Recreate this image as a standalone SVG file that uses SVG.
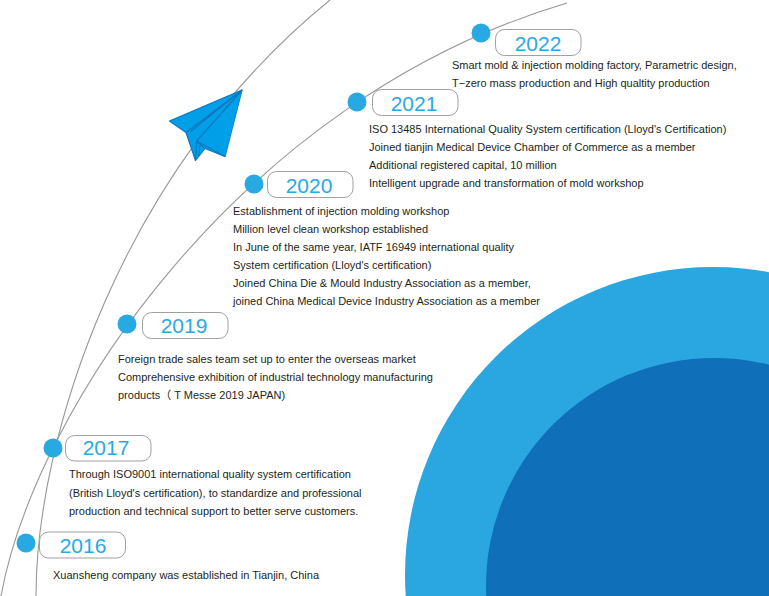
<svg xmlns="http://www.w3.org/2000/svg" width="769" height="596" viewBox="0 0 769 596">
<style>
.curve{fill:none;stroke:#979797;stroke-width:1.1}
.dot{fill:#29a9e1}
.pill{fill:#fff;stroke:#a0a0a0;stroke-width:1}
.yr{font-family:"Liberation Sans",Arial,sans-serif;font-size:21px;fill:#29a9e1;text-anchor:middle}
.t{font-family:"Liberation Sans",Arial,"Noto Sans CJK SC",sans-serif;font-size:11px;fill:#231f20}
.pl{fill:#009fe8;stroke:#0b78c1;stroke-width:1.2;stroke-linejoin:round}
</style>
<rect width="769" height="596" fill="#fff"/>
<g id="backdrop">
<circle cx="713" cy="575" r="308" fill="#2aa7e1"/>
<circle cx="714" cy="586" r="228" fill="#0f6fb9"/>
</g>
<g id="connectors">
<path class="curve" d="M36 596C36 440 120 170 330 0"/>
<path class="curve" d="M1 596C35 410 240 100 567 3"/>
</g>
<g id="plane">
<path class="pl" d="M242 90L169.500 121L186 132.500L195.500 160.500L205 148.500L225 156.500Z"/>
<path class="pl" d="M242 90L186 132.500M242 90L190.500 131.500M242 90L196.700 141L225 156.500M196.700 141L195.500 160.500M200 144L199 156M196.700 141L205 148.500"/>
</g>
<g id="n2016"><circle class="dot" cx="26" cy="543" r="9.500"/><rect class="pill" x="39.500" y="532" width="86" height="26" rx="9"/><text class="yr" x="83" y="553">2016</text><text class="t" x="53" y="579">Xuansheng company was established in Tianjin, China</text></g>
<g id="n2017"><circle class="dot" cx="53" cy="448" r="9.500"/><rect class="pill" x="65.500" y="435.500" width="85.500" height="25.500" rx="9"/><text class="yr" x="106" y="455">2017</text>
<text class="t" x="69" y="478">Through ISO9001 international quality system certification</text><text class="t" x="69" y="497">(British Lloyd's certification), to standardize and professional</text><text class="t" x="69" y="515">production and technical support to better serve customers.</text></g>
<g id="n2019"><circle class="dot" cx="127" cy="324" r="9.500"/><rect class="pill" x="142.500" y="312.500" width="85.500" height="26" rx="9"/><text class="yr" x="184" y="333">2019</text>
<text class="t" x="118" y="363">Foreign trade sales team set up to enter the overseas market</text><text class="t" x="118" y="381">Comprehensive exhibition of industrial technology manufacturing</text><text class="t" x="118" y="399">products（ T Messe 2019 JAPAN)</text></g>
<g id="n2020"><circle class="dot" cx="254" cy="184" r="9.500"/><rect class="pill" x="267.500" y="171.500" width="85.500" height="26" rx="9"/><text class="yr" x="309" y="193">2020</text>
<text class="t" x="233" y="215">Establishment of injection molding workshop</text><text class="t" x="233" y="233">Million level clean workshop established</text><text class="t" x="233" y="251">In June of the same year, IATF 16949 international quality</text><text class="t" x="233" y="269">System certification (Lloyd's certification)</text><text class="t" x="233" y="287">Joined China Die &amp; Mould Industry Association as a member,</text><text class="t" x="233" y="305">joined China Medical Device Industry Association as a member</text></g>
<g id="n2021"><circle class="dot" cx="357" cy="102" r="9.500"/><rect class="pill" x="372.500" y="89.500" width="85.500" height="26" rx="9"/><text class="yr" x="414" y="111">2021</text>
<text class="t" x="369" y="133">ISO 13485 International Quality System certification (Lloyd's Certification)</text><text class="t" x="369" y="151">Joined tianjin Medical Device Chamber of Commerce as a member</text><text class="t" x="369" y="169">Additional registered capital, 10 million</text><text class="t" x="369" y="187">Intelligent upgrade and transformation of mold workshop</text></g>
<g id="n2022"><circle class="dot" cx="481" cy="33" r="9.500"/><rect class="pill" x="495.500" y="29.500" width="85.500" height="26" rx="9"/><text class="yr" x="538" y="51">2022</text>
<text class="t" x="452" y="69">Smart mold &amp; injection molding factory, Parametric design,</text><text class="t" x="452" y="87">T−zero mass production and High qualtity production</text></g>
</svg>
